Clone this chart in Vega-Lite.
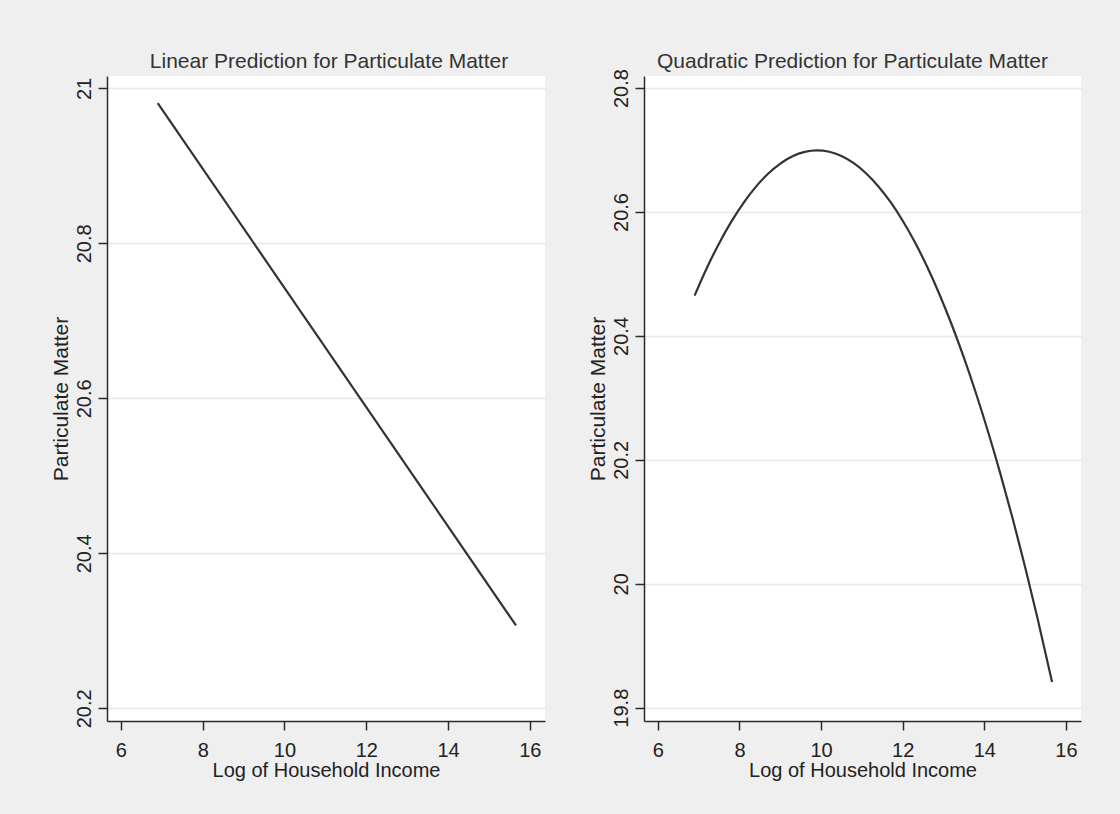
{
  "$schema": "https://vega.github.io/schema/vega-lite/v6.json",
  "background": "#efefef",
  "padding": {"left": 50, "top": 50, "right": 39, "bottom": 36},
  "spacing": 41,
  "config": {
    "font": "Liberation Sans",
    "view": {"fill": "white", "stroke": null},
    "axis": {
      "labelFontSize": 20,
      "titleFontSize": 20,
      "titleFontWeight": "normal",
      "labelColor": "#222222",
      "titleColor": "#222222",
      "domainColor": "#2a2a2a",
      "domainWidth": 1.5,
      "tickColor": "#2a2a2a",
      "tickWidth": 1.5,
      "tickSize": 9,
      "gridColor": "#e8e8e8",
      "gridWidth": 1.5
    },
    "title": {"fontSize": 21, "fontWeight": "normal", "color": "#333333", "anchor": "middle"}
  },
  "datasets": {
    "linear": [
      {"income": 6.9, "pm": 20.981},
      {"income": 15.66, "pm": 20.307}
    ],
    "quadratic": [
      {"income": 6.9, "pm": 20.4651},
      {"income": 7.2, "pm": 20.5096},
      {"income": 7.5, "pm": 20.5493},
      {"income": 7.8, "pm": 20.5844},
      {"income": 8.1, "pm": 20.6149},
      {"income": 8.4, "pm": 20.6406},
      {"income": 8.7, "pm": 20.6617},
      {"income": 9.0, "pm": 20.6782},
      {"income": 9.3, "pm": 20.69},
      {"income": 9.6, "pm": 20.6971},
      {"income": 9.9, "pm": 20.6995},
      {"income": 10.2, "pm": 20.6973},
      {"income": 10.5, "pm": 20.6904},
      {"income": 10.8, "pm": 20.6788},
      {"income": 11.1, "pm": 20.6626},
      {"income": 11.4, "pm": 20.6417},
      {"income": 11.7, "pm": 20.6162},
      {"income": 12.0, "pm": 20.5859},
      {"income": 12.3, "pm": 20.5511},
      {"income": 12.6, "pm": 20.5115},
      {"income": 12.9, "pm": 20.4673},
      {"income": 13.2, "pm": 20.4184},
      {"income": 13.5, "pm": 20.3649},
      {"income": 13.8, "pm": 20.3067},
      {"income": 14.1, "pm": 20.2438},
      {"income": 14.4, "pm": 20.1762},
      {"income": 14.7, "pm": 20.104},
      {"income": 15.0, "pm": 20.0272},
      {"income": 15.3, "pm": 19.9456},
      {"income": 15.66, "pm": 19.8416}
    ]
  },
  "hconcat": [
    {
      "width": 438,
      "height": 645,
      "title": {"text": "Linear Prediction for Particulate Matter", "offset": 4.5, "dx": 3},
      "data": {"name": "linear"},
      "mark": {"type": "line", "color": "#333333", "strokeWidth": 2.2},
      "encoding": {
        "x": {
          "field": "income", "type": "quantitative",
          "scale": {"domain": [5.66, 16.37], "nice": false, "zero": false},
          "axis": {"title": "Log of Household Income", "values": [6, 8, 10, 12, 14, 16], "grid": false, "labelPadding": 10, "titlePadding": 0}
        },
        "y": {
          "field": "pm", "type": "quantitative",
          "scale": {"domain": [20.1836, 21.016], "nice": false, "zero": false},
          "axis": {"title": "Particulate Matter", "titleFontSize": 21, "format": "~g", "values": [20.2, 20.4, 20.6, 20.8, 21], "labelAngle": 270, "labelAlign": "center", "labelBaseline": "bottom", "labelPadding": 4, "titlePadding": 3}
        }
      }
    },
    {
      "width": 437,
      "height": 645,
      "title": {"text": "Quadratic Prediction for Particulate Matter", "offset": -3, "dx": -10},
      "data": {"name": "quadratic"},
      "mark": {"type": "line", "color": "#333333", "strokeWidth": 2.2, "interpolate": "monotone"},
      "encoding": {
        "x": {
          "field": "income", "type": "quantitative",
          "scale": {"domain": [5.66, 16.37], "nice": false, "zero": false},
          "axis": {"title": "Log of Household Income", "values": [6, 8, 10, 12, 14, 16], "grid": false, "labelPadding": 10, "titlePadding": 0}
        },
        "y": {
          "field": "pm", "type": "quantitative",
          "scale": {"domain": [19.7785, 20.8195], "nice": false, "zero": false},
          "axis": {"title": "Particulate Matter", "titleFontSize": 21, "format": "~g", "values": [19.8, 20, 20.2, 20.4, 20.6, 20.8], "labelAngle": 270, "labelAlign": "center", "labelBaseline": "bottom", "labelPadding": 4, "titlePadding": 3}
        }
      }
    }
  ]
}
